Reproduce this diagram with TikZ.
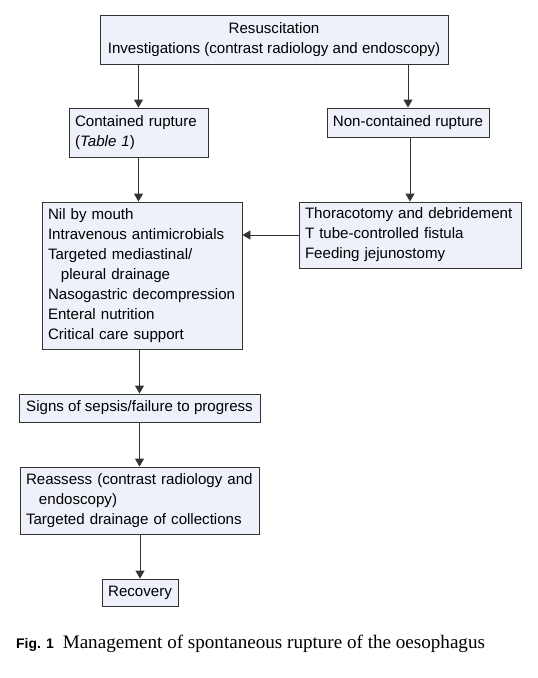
\documentclass[tikz,border=0pt]{standalone}
\usepackage{fontspec}
\setmainfont{Liberation Sans}
\newfontfamily\capserif{Liberation Serif}
\usetikzlibrary{arrows.meta}
\definecolor{boxfill}{HTML}{EEF0FA}
\definecolor{boxline}{HTML}{333333}
\tikzset{
  basebox/.style={draw=boxline, fill=boxfill, line width=0.9pt, inner sep=0pt, font=\fontsize{15.1}{20}\selectfont},
  fbox/.style={basebox, minimum width=#1, text width=#1-12pt, align=left},
  sbox/.style={basebox, minimum width=#1, align=center},
  conn/.style={draw=boxline, line width=0.9pt, -{Triangle[width=9pt,length=8pt]}},
}
\begin{document}
\begin{tikzpicture}[x=1pt,y=-1pt]
\useasboundingbox (0,0) rectangle (538,678);
\fill[white] (0,0) rectangle (538,678);
\node[sbox=348pt, minimum height=49pt] (top) at (274,39.5) {Resuscitation\\Investigations (contrast radiology and endoscopy)};
\node[fbox=139pt, minimum height=49pt] (cont) at (138.5,132.5) {Contained rupture\\(\textit{Table 1})};
\node[sbox=162pt, minimum height=29pt] (ncont) at (408,122.5) {Non-contained rupture};
\node[fbox=200pt, minimum height=147pt] (nil) at (142,275.5) {Nil by mouth\\Intravenous antimicrobials\\Targeted mediastinal/\\\hspace*{13pt}pleural drainage\\Nasogastric decompression\\Enteral nutrition\\Critical care support};
\node[fbox=222pt, minimum height=66pt] (thor) at (410,235) {Thoracotomy and debridement\\T tube-controlled fistula\\Feeding jejunostomy};
\node[sbox=241pt, minimum height=28pt] (signs) at (139.5,408) {Signs of sepsis/failure to progress};
\node[fbox=239pt, minimum height=67pt] (reas) at (139.5,500.5) {Reassess (contrast radiology and\\\hspace*{13pt}endoscopy)\\Targeted drainage of collections};
\node[sbox=76pt, minimum height=27pt] (rec) at (140,592.5) {Recovery};
\draw[conn] (top.south -| cont.north) -- (cont.north);
\draw[conn] (top.south -| ncont.north) -- (ncont.north);
\draw[conn] (cont.south) -- (cont.south |- nil.north);
\draw[conn] (ncont.south -| thor.north) -- (thor.north);
\draw[conn] (thor.west) -- (thor.west -| nil.east);
\draw[conn] (nil.south -| signs.north) -- (signs.north);
\draw[conn] (signs.south) -- (reas.north);
\draw[conn] (reas.south -| rec.north) -- (rec.north);
\node[anchor=base west, inner sep=0pt] (cap) at (16,648) {\fontsize{13.9}{16}\selectfont\textbf{Fig. 1}\hspace{9pt}{\capserif\fontsize{19.1}{22}\selectfont Management of spontaneous rupture of the oesophagus}};
\end{tikzpicture}
\end{document}
